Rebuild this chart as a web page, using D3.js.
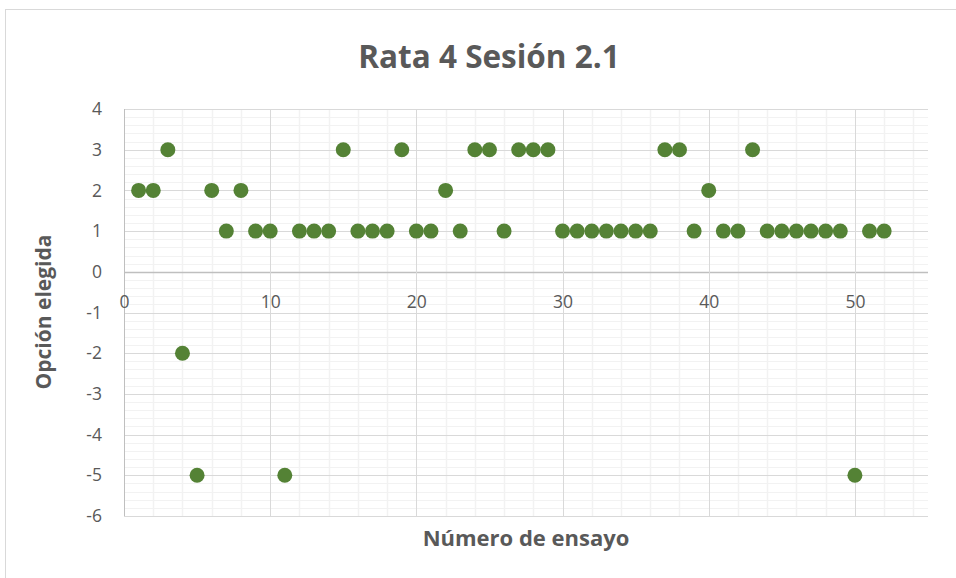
<!DOCTYPE html>
<html>
<head>
<meta charset="utf-8">
<script src="https://cdn.jsdelivr.net/npm/d3@7"></script>
<style>
  body { margin: 0; background: #fff; }
  text { font-family: "Open Sans", Lato, sans-serif; fill: #595959; }
</style>
</head>
<body>
<div class="chart"></div>
<script>
var svgWidth = 956;
var svgHeight = 578;

// trial number and chosen option
var trials = d3.range(1, 53);
var options = [2, 2, 3, -2, -5, 2, 1, 2, 1, 1,
  -5, 1, 1, 1, 3, 1, 1, 1, 3, 1,
  1, 2, 1, 3, 3, 1, 3, 3, 3, 1,
  1, 1, 1, 1, 1, 1, 3, 3, 1, 2,
  1, 1, 3, 1, 1, 1, 1, 1, 1, -5,
  1, 1];
var xTicks = [0, 10, 20, 30, 40, 50];
var yTicks = [4, 3, 2, 1, 0, -1, -2, -3, -4, -5, -6];

var data = trials.map((t, i) => ({ trial: t, option: options[i] }));

var margin = { top: 109, right: 28, bottom: 62, left: 124 };
var width = svgWidth - margin.left - margin.right;
var height = svgHeight - margin.top - margin.bottom;

var svg = d3.select(".chart")
  .append("svg")
  .attr("width", svgWidth)
  .attr("height", svgHeight);

// outer chart border
svg.append("rect")
  .attr("x", 5.5)
  .attr("y", 9.5)
  .attr("width", svgWidth)
  .attr("height", svgHeight)
  .attr("fill", "none")
  .attr("stroke", "#d9d9d9");

var chartGroup = svg.append("g")
  .attr("transform", `translate(${margin.left}, ${margin.top})`);

var xScale = d3.scaleLinear().domain([0, 55]).range([0, width]);
var yScale = d3.scaleLinear().domain([-6, 4]).range([height, 0]);

// minor gridlines
chartGroup.append("g")
  .selectAll("line")
  .data(d3.range(-6, 4.01, 0.2).filter(v => Math.abs(v - Math.round(v)) > 0.01))
  .enter().append("line")
  .attr("x1", 0).attr("x2", width)
  .attr("y1", d => Math.round(yScale(d)) + 0.5)
  .attr("y2", d => Math.round(yScale(d)) + 0.5)
  .attr("stroke", "#f2f2f2");

chartGroup.append("g")
  .selectAll("line")
  .data(d3.range(2, 55, 2).filter(v => v % 10 !== 0))
  .enter().append("line")
  .attr("x1", d => Math.round(xScale(d)) + 0.5)
  .attr("x2", d => Math.round(xScale(d)) + 0.5)
  .attr("y1", 0).attr("y2", height)
  .attr("stroke", "#f2f2f2")
  .attr("stroke-width", 1.5);

// major gridlines
chartGroup.append("g")
  .selectAll("line")
  .data(yTicks)
  .enter().append("line")
  .attr("x1", 0).attr("x2", width)
  .attr("y1", d => Math.round(yScale(d)) + 0.5)
  .attr("y2", d => Math.round(yScale(d)) + 0.5)
  .attr("stroke-width", d => d === 0 ? 1.5 : 1)
  .attr("stroke", d => d === 0 ? "#bfbfbf" : "#d9d9d9");

chartGroup.append("g")
  .selectAll("line")
  .data(xTicks)
  .enter().append("line")
  .attr("x1", d => Math.round(xScale(d)) + 0.5)
  .attr("x2", d => Math.round(xScale(d)) + 0.5)
  .attr("y1", 0).attr("y2", height)
  .attr("stroke", d => d === 0 ? "#bfbfbf" : "#d9d9d9");

// axes (labels only)
var leftAxis = d3.axisLeft(yScale).tickValues(yTicks).tickFormat(d => String(d))
  .tickSize(0).tickPadding(22);
var yAxisG = chartGroup.append("g").call(leftAxis);
yAxisG.select(".domain").remove();
yAxisG.selectAll("text")
  .style("font-size", "17.5px")
  .attr("fill", "#595959");

var bottomAxis = d3.axisBottom(xScale).tickValues(xTicks).tickFormat(d => String(d))
  .tickSize(0).tickPadding(24);
var xAxisG = chartGroup.append("g")
  .attr("transform", `translate(0, ${yScale(0)})`)
  .call(bottomAxis);
xAxisG.select(".domain").remove();
xAxisG.selectAll("text")
  .style("font-size", "17.5px")
  .attr("fill", "#595959");

// points
chartGroup.selectAll(".dot")
  .data(data)
  .enter()
  .append("circle")
  .attr("class", "dot")
  .attr("cx", d => xScale(d.trial))
  .attr("cy", d => yScale(d.option))
  .attr("r", 7.5)
  .attr("fill", "#548235");

// titles
svg.append("text")
  .attr("x", 489)
  .attr("y", 68)
  .attr("text-anchor", "middle")
  .style("font-size", "31.5px")
  .style("font-weight", "bold")
  .text("Rata 4 Sesión 2.1");

svg.append("text")
  .attr("transform", "translate(51, 312) rotate(-90)")
  .attr("text-anchor", "middle")
  .style("font-size", "21px")
  .style("font-weight", "bold")
  .text("Opción elegida");

svg.append("text")
  .attr("x", 526)
  .attr("y", 546)
  .attr("text-anchor", "middle")
  .style("font-size", "22px")
  .style("font-weight", "bold")
  .text("Número de ensayo");
</script>
</body>
</html>
